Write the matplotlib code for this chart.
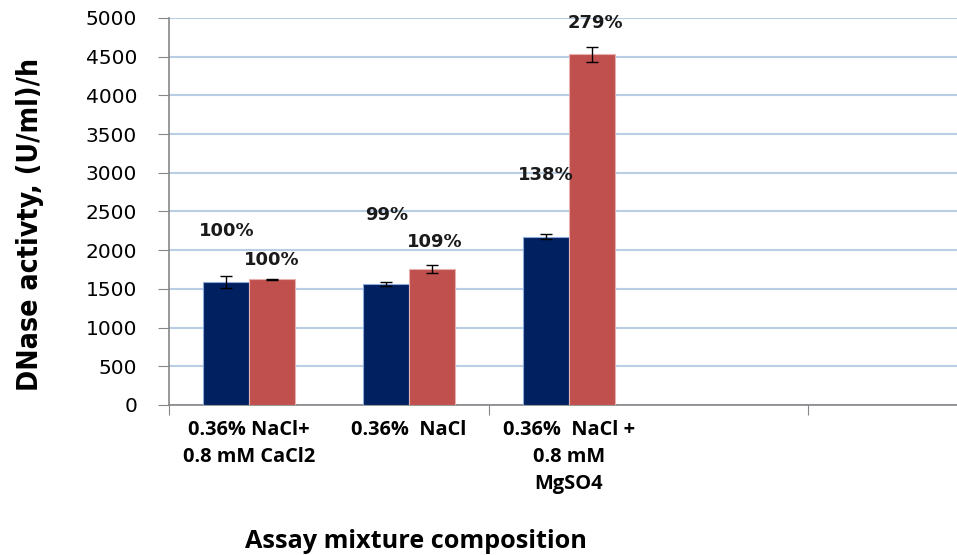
import numpy as np
import matplotlib
matplotlib.use("Agg")
from matplotlib import pyplot as plt

# dati
categorie = ["0.36% NaCl+\n0.8 mM CaCl2", "0.36%  NaCl", "0.36%  NaCl +\n0.8 mM\nMgSO4"]
serie_blu = [1585, 1563, 2175]
err_blu = [75, 32, 35]
serie_rossa = [1624, 1761, 4530]
err_rossa = [5, 50, 93]
perc_blu = ["100%", "99%", "138%"]
perc_rossa = ["100%", "109%", "279%"]
n_cat = 5  # categorie sull'asse (le ultime vuote)

# posizioni delle etichette percentuali (dx rispetto al centro, y in dati)
pos_blu = [(-0.14, 2248), (-0.14, 2455), (-0.14, 2972)]
pos_rossa = [(0.14, 1873), (0.16, 2110), (0.17, 4931)]

font_lab = ["Open Sans", "DejaVu Sans"]

fig = plt.figure(figsize=(9.57, 5.55), dpi=100)
ax = fig.add_axes([0.1766, 0.2703, 0.8234, 0.6973])

x = np.arange(len(categorie))
w = 0.2875
ax.bar(x - w/2, serie_blu, w, color="#00205F", edgecolor="#8EA9DB", linewidth=0.8, zorder=3)
ax.bar(x + w/2, serie_rossa, w, color="#C0504D", edgecolor="#E6B0AE", linewidth=0.8, zorder=3)
ax.errorbar(x - w/2, serie_blu, yerr=err_blu, fmt="none", ecolor="black", elinewidth=1, capsize=4, zorder=4)
ax.errorbar(x + w/2, serie_rossa, yerr=err_rossa, fmt="none", ecolor="black", elinewidth=1, capsize=4, zorder=4)

for i in range(len(categorie)):
    ax.text(i + pos_blu[i][0], pos_blu[i][1], perc_blu[i], ha="center", va="center",
            fontsize=13, fontweight="bold", color="#1a1a1a")
    ax.text(i + pos_rossa[i][0], pos_rossa[i][1], perc_rossa[i], ha="center", va="center",
            fontsize=13, fontweight="bold", color="#1a1a1a")

ax.set_xlim(-0.5, 4.43)
ax.set_ylim(0, 5000)
ax.set_yticks(np.arange(0, 5001, 500))
ax.tick_params(axis="y", labelsize=14.5, length=8, color="#868686", pad=15)
ax.yaxis.grid(True, color="#B9CDE5", linewidth=1.5, zorder=0)
ax.set_axisbelow(True)

# tacche ogni due categorie, etichette sotto ogni categoria
ax.set_xticks(np.arange(-0.5, n_cat, 2))
ax.set_xticklabels([])
ax.tick_params(axis="x", which="major", length=7.5, color="#868686")
ax.set_xticks(x, minor=True)
ax.set_xticklabels(categorie, minor=True, fontsize=14.4, fontweight="bold",
                   family=font_lab, linespacing=1.45)
ax.tick_params(axis="x", which="minor", length=0, pad=11)

for s in ["top", "right"]:
    ax.spines[s].set_visible(False)
for s in ["left", "bottom"]:
    ax.spines[s].set_color("#868686")
    ax.spines[s].set_linewidth(1.2)

fig.text(0.031, 0.595, "DNase activty, (U/ml)/h", rotation=90, ha="center", va="center",
         fontsize=20.4, fontweight="bold", family=["DejaVu Sans"], fontstretch="condensed")
fig.text(0.435, 0.025, "Assay mixture composition", ha="center", va="center",
         fontsize=18.2, fontweight="bold", family=font_lab)

plt.savefig("out.png", dpi=100)
